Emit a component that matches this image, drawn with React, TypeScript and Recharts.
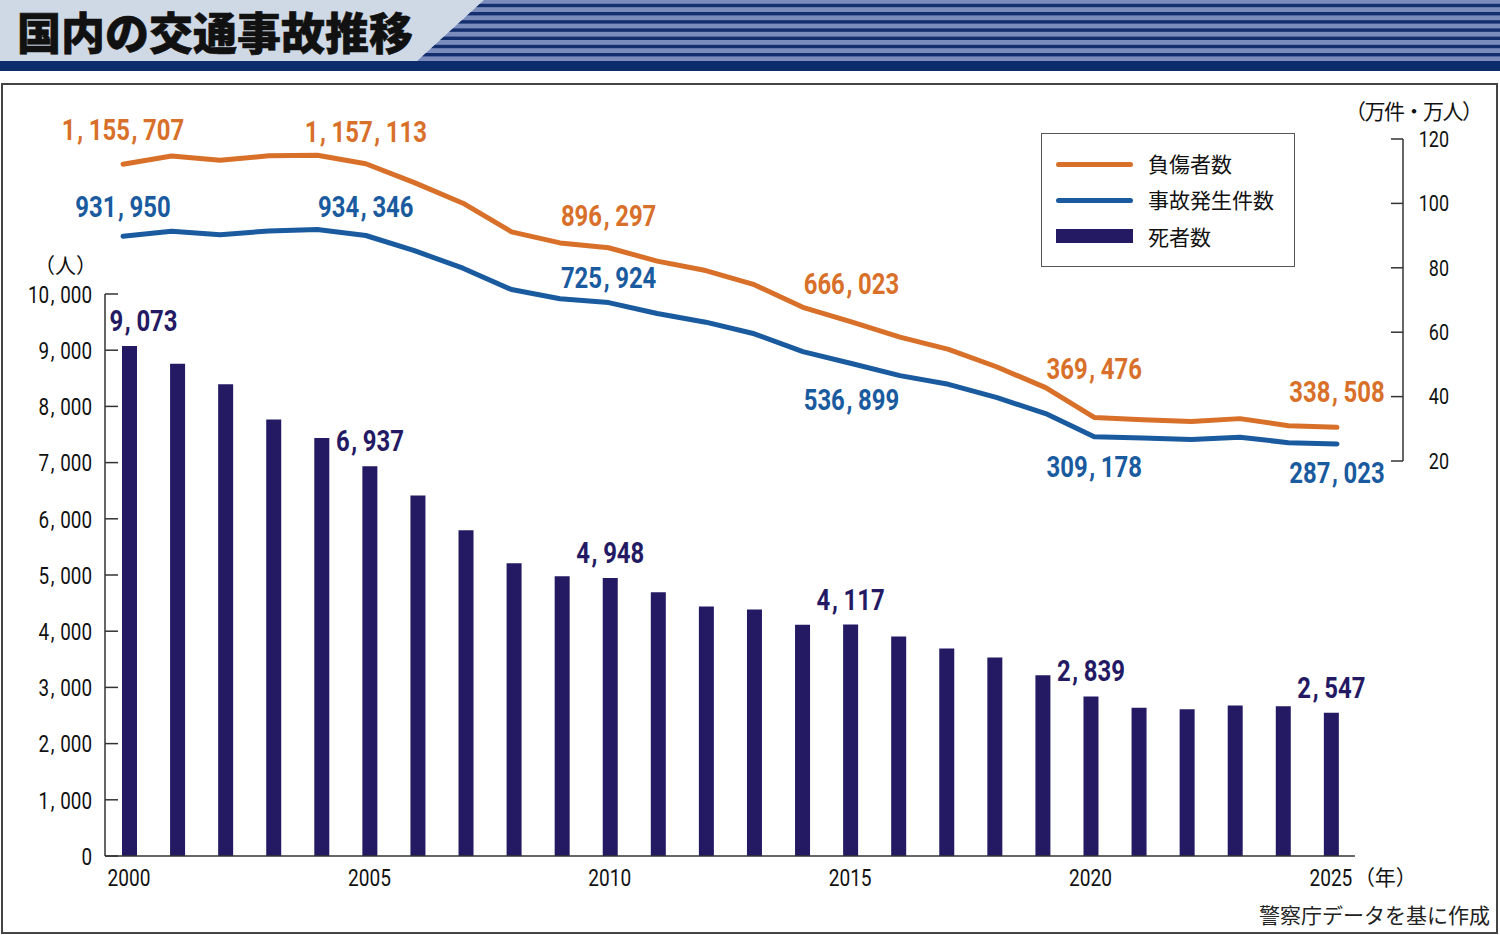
import React from 'react';
import { ComposedChart, Bar, Line, XAxis, YAxis, ReferenceLine, LabelList } from 'recharts';

// ---- data ----
const years = [2000, 2001, 2002, 2003, 2004, 2005, 2006, 2007, 2008, 2009, 2010, 2011, 2012, 2013, 2014, 2015, 2016, 2017, 2018, 2019, 2020, 2021, 2022, 2023, 2024, 2025];
const deaths = [9073, 8757, 8396, 7768, 7436, 6937, 6415, 5796, 5209, 4979, 4948, 4691, 4438, 4388, 4113, 4117, 3904, 3694, 3532, 3215, 2839, 2636, 2610, 2678, 2663, 2547];
const injuries = [1155707, 1181039, 1168029, 1181681, 1183617, 1157113, 1098564, 1034652, 945703, 911215, 896297, 854613, 825392, 781492, 711374, 666023, 618853, 580850, 525846, 461775, 369476, 362131, 356601, 365595, 343756, 338508];
const accidents = [931950, 947253, 936950, 948281, 952720, 934346, 887267, 832704, 766394, 737637, 725924, 692084, 665157, 629033, 573842, 536899, 499201, 472165, 430601, 381237, 309178, 305196, 300839, 307930, 290792, 287023];
const labeledYears = [2000, 2005, 2010, 2015, 2020, 2025];
const leftTicks = [0, 1000, 2000, 3000, 4000, 5000, 6000, 7000, 8000, 9000, 10000];
const rightTicks = [20, 40, 60, 80, 100, 120];
const xTicks = [2000, 2005, 2010, 2015, 2020, 2025];

const TITLE = '国内の交通事故推移';
const LEGEND_INJ = '負傷者数';
const LEGEND_ACC = '事故発生件数';
const LEGEND_DEATH = '死者数';
const LEFT_UNIT = '（人）';
const RIGHT_UNIT = '（万件・万人）';
const YEAR_UNIT = '（年）';
const SOURCE = '警察庁データを基に作成';

const chartData = years.map((year, i) => ({
  year,
  deaths: deaths[i],
  injuries: injuries[i] / 10000,
  accidents: accidents[i] / 10000,
}));

// ---- styles ----
const ORANGE = '#d8702a';
const BLUE = '#1a5a9e';
const NAVY = '#241a64';
const AXIS = '#333333';
const NUM_FONT = "Roboto, 'DejaVu Sans', sans-serif";
const CJK_FONT = "'Noto Sans CJK JP', 'Noto Sans', sans-serif";

// label offsets (px, relative to the mark)
const injOffsets: Record<number, number> = { 2000: -34, 2005: -32, 2010: -32, 2015: -38, 2020: -48, 2025: -35 };
const accOffsets: Record<number, number> = { 2000: -29, 2005: -28, 2010: -24, 2015: 37, 2020: 30, 2025: 29 };
const barDx: Record<number, number> = { 2000: 14 };

const fmt = (v: number) => v.toLocaleString('en-US');

type NumTextProps = {
  x: number;
  y: number;
  text: string;
  size: number;
  bold?: boolean;
  fill: string;
  anchor: 'start' | 'middle' | 'end';
  sx?: number;
  pre?: number;
  post?: number;
};

// condensed numeric text with spaced commas
const NumText = ({ x, y, text, size, bold, fill, anchor, sx = 0.81, pre = 2, post = 7 }: NumTextProps) => {
  const parts = text.split(',');
  const kids: React.ReactNode[] = [];
  parts.forEach((p, i) => {
    if (i > 0) {
      kids.push(
        <tspan key={'c' + i} dx={pre}>
          ,
        </tspan>
      );
      kids.push(
        <tspan key={'p' + i} dx={post}>
          {p}
        </tspan>
      );
    } else {
      kids.push(<tspan key={'p' + i}>{p}</tspan>);
    }
  });
  return (
    <text
      transform={`translate(${x},${y}) scale(${sx},1)`}
      textAnchor={anchor}
      dominantBaseline="central"
      fill={fill}
      style={{ fontFamily: NUM_FONT, fontWeight: bold ? 700 : 400, fontSize: size }}
    >
      {kids}
    </text>
  );
};

const makeLineLabel = (raw: number[], color: string, offsets: Record<number, number>) => (props: any) => {
  const vb = props.viewBox || {};
  const x = props.x ?? vb.x;
  const y = props.y ?? vb.y;
  const yr = Number(props.value);
  if (!(yr in offsets)) return null;
  const idx = years.indexOf(yr);
  return <NumText x={x} y={y + offsets[yr]} text={fmt(raw[idx])} size={29.5} bold fill={color} anchor="middle" />;
};

const BarLabel = (props: any) => {
  const vb = props.viewBox || {};
  const x = props.x ?? vb.x;
  const y = props.y ?? vb.y;
  const w = props.width ?? vb.width ?? 0;
  const yr = Number(props.value);
  if (!labeledYears.includes(yr)) return null;
  const idx = years.indexOf(yr);
  return (
    <NumText x={x + w / 2 + (barDx[yr] || 0)} y={y - 25} text={fmt(deaths[idx])} size={29.5} bold fill={NAVY} anchor="middle" />
  );
};

const LeftTick = (props: any) => {
  const { x, y, payload } = props;
  return (
    <g>
      <line x1={x} x2={x + 13} y1={y} y2={y} stroke={AXIS} strokeWidth={1.5} />
      <NumText x={x - 13} y={y} text={fmt(payload.value)} size={23} fill="#111" anchor="end" sx={0.82} pre={2} post={7} />
    </g>
  );
};

const RightTick = (props: any) => {
  const { x, y, payload } = props;
  return (
    <g>
      <line x1={x - 12} x2={x} y1={y} y2={y} stroke={AXIS} strokeWidth={1.5} />
      <NumText x={x + 46} y={y} text={String(payload.value)} size={22.5} fill="#111" anchor="end" sx={0.8} />
    </g>
  );
};

const XTick = (props: any) => {
  const { x, y, payload } = props;
  const last = payload.value === 2025;
  return (
    <g>
      <NumText x={x} y={y + 21} text={String(payload.value)} size={23} fill="#111" anchor="middle" sx={0.83} />
      {last && (
        <text x={x + 23} y={y + 20} textAnchor="start" dominantBaseline="central" fill="#111" style={{ fontFamily: CJK_FONT, fontSize: 21 }}>
          {YEAR_UNIT}
        </text>
      )}
    </g>
  );
};

const Banner = () => {
  const stripes = Array.from({ length: 7 }, (_, i) => i);
  return (
    <svg width={1500} height={72} style={{ position: 'absolute', left: 0, top: 0 }}>
      <defs>
        <clipPath id="stripeClip">
          <polygon points="484,0 1500,0 1500,62 416,62" />
        </clipPath>
      </defs>
      <rect x={0} y={0} width={1500} height={62} fill="#cfd9e5" />
      <g clipPath="url(#stripeClip)">
        <rect x={0} y={0} width={1500} height={62} fill="#7b8cbc" />
        {stripes.map((i) => (
          <rect key={i} x={0} y={i * 8.2 + 3.8} width={1500} height={3.4} fill="#132f6e" />
        ))}
      </g>
      <rect x={0} y={61} width={1500} height={10} fill="#0d2c6c" />
    </svg>
  );
};

const Legend = () => (
  <div
    style={{
      position: 'absolute',
      left: 1041,
      top: 133,
      width: 254,
      height: 134,
      boxSizing: 'border-box',
      border: '1.5px solid #555',
      background: '#fff',
      fontFamily: CJK_FONT,
      fontSize: 21,
      color: '#111',
    }}
  >
    <div style={{ position: 'absolute', left: 14, top: 28, width: 77, height: 5, borderRadius: 3, background: ORANGE }} />
    <div style={{ position: 'absolute', left: 106, top: 14, lineHeight: '30px' }}>{LEGEND_INJ}</div>
    <div style={{ position: 'absolute', left: 14, top: 64, width: 77, height: 5, borderRadius: 3, background: BLUE }} />
    <div style={{ position: 'absolute', left: 106, top: 50, lineHeight: '30px' }}>{LEGEND_ACC}</div>
    <div style={{ position: 'absolute', left: 14, top: 95, width: 77, height: 14, background: NAVY }} />
    <div style={{ position: 'absolute', left: 106, top: 87, lineHeight: '30px' }}>{LEGEND_DEATH}</div>
  </div>
);

export default function App() {
  return (
    <div style={{ position: 'absolute', left: 0, top: 0, width: 1500, height: 935, background: '#fff', overflow: 'hidden' }}>
      <Banner />
      <div
        style={{
          position: 'absolute',
          left: 17,
          top: 4,
          fontFamily: CJK_FONT,
          fontWeight: 900,
          fontSize: 44,
          lineHeight: '54px',
          color: '#111',
          whiteSpace: 'nowrap',
          WebkitTextStroke: '0.6px #111',
        }}
      >
        {TITLE}
      </div>
      <div
        style={{
          position: 'absolute',
          left: 1,
          top: 83,
          width: 1497,
          height: 851,
          boxSizing: 'border-box',
          border: '2px solid #444',
        }}
      />
      <div style={{ position: 'absolute', left: 0, top: 0, width: 1500, height: 935 }}>
        <ComposedChart width={1500} height={935} data={chartData} margin={{ top: 139, right: 37, bottom: 49, left: 45 }}>
          <XAxis
            xAxisId="bx"
            dataKey="year"
            type="number"
            domain={[1999.5, 2026.5]}
            allowDataOverflow
            ticks={xTicks}
            axisLine={false}
            tickLine={false}
            tickSize={0}
            tickMargin={0}
            height={30}
            tick={(p: any) => <XTick {...p} />}
            interval={0}
          />
          <XAxis xAxisId="lx" dataKey="year" type="number" domain={[1999.629, 2026.359]} allowDataOverflow hide />
          <YAxis
            yAxisId="l"
            orientation="left"
            type="number"
            domain={[0, 12758]}
            allowDataOverflow
            ticks={leftTicks}
            interval={0}
            axisLine={false}
            tickLine={false}
            tickSize={0}
            tickMargin={0}
            width={60}
            tick={(p: any) => <LeftTick {...p} />}
          />
          <YAxis
            yAxisId="r"
            orientation="right"
            type="number"
            domain={[-102.67, 120]}
            allowDataOverflow
            ticks={rightTicks}
            interval={0}
            axisLine={false}
            tickLine={false}
            tickSize={0}
            tickMargin={0}
            width={60}
            tick={(p: any) => <RightTick {...p} />}
          />
          <YAxis yAxisId="lv" type="number" domain={[-99.27, 123.4]} allowDataOverflow hide />

          <Bar xAxisId="bx" yAxisId="l" dataKey="deaths" fill={NAVY} barSize={15} isAnimationActive={false}>
            <LabelList dataKey="year" content={(p: any) => <BarLabel {...p} />} />
          </Bar>
          <Line
            xAxisId="lx"
            yAxisId="lv"
            type="linear"
            dataKey="injuries"
            stroke={ORANGE}
            strokeWidth={5}
            strokeLinecap="round"
            strokeLinejoin="round"
            dot={false}
            activeDot={false}
            isAnimationActive={false}
          >
            <LabelList dataKey="year" content={makeLineLabel(injuries, ORANGE, injOffsets)} />
          </Line>
          <Line
            xAxisId="lx"
            yAxisId="lv"
            type="linear"
            dataKey="accidents"
            stroke={BLUE}
            strokeWidth={5}
            strokeLinecap="round"
            strokeLinejoin="round"
            dot={false}
            activeDot={false}
            isAnimationActive={false}
          >
            <LabelList dataKey="year" content={makeLineLabel(accidents, BLUE, accOffsets)} />
          </Line>

          <ReferenceLine
            xAxisId="bx"
            yAxisId="l"
            segment={[{ x: 1999.5, y: 0 }, { x: 1999.5, y: 10000 }]}
            stroke={AXIS}
            strokeWidth={1.5}
            ifOverflow="visible"
          />
          <ReferenceLine
            xAxisId="bx"
            yAxisId="l"
            segment={[{ x: 1999.5, y: 0 }, { x: 2025.5, y: 0 }]}
            stroke={AXIS}
            strokeWidth={1.5}
            ifOverflow="visible"
          />
          <ReferenceLine
            xAxisId="bx"
            yAxisId="r"
            segment={[{ x: 2026.5, y: 20 }, { x: 2026.5, y: 120 }]}
            stroke={AXIS}
            strokeWidth={1.5}
            ifOverflow="visible"
          />
        </ComposedChart>
      </div>
      <Legend />
      <div style={{ position: 'absolute', left: 34, top: 251, fontFamily: CJK_FONT, fontSize: 21, color: '#111', lineHeight: '26px' }}>
        {LEFT_UNIT}
      </div>
      <div style={{ position: 'absolute', left: 1345, top: 97, fontFamily: CJK_FONT, fontSize: 21, color: '#111', lineHeight: '26px', letterSpacing: -1.5 }}>
        {RIGHT_UNIT}
      </div>
      <div style={{ position: 'absolute', right: 10, top: 899, fontFamily: CJK_FONT, fontSize: 21, color: '#222', lineHeight: '30px' }}>
        {SOURCE}
      </div>
    </div>
  );
}
